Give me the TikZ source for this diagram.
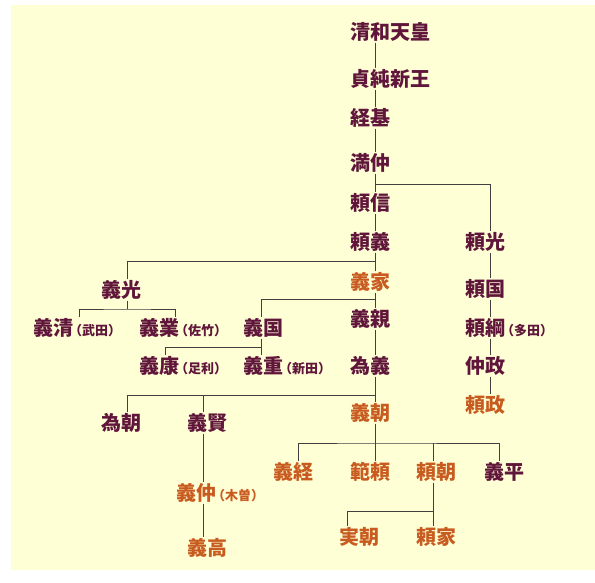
\documentclass[tikz,border=0pt]{standalone}
\usepackage{fontspec}
\newfontfamily\jp{Noto Sans CJK JP}
\definecolor{bg}{RGB}{255,255,214}
\definecolor{plum}{RGB}{96,22,58}
\definecolor{rust}{RGB}{200,92,32}
\definecolor{ln}{RGB}{64,64,64}
\newcommand\smallnote[1]{{\fontsize{13}{13}\selectfont\kern-4pt（#1）}}
\begin{document}
\begin{tikzpicture}[x=1pt,y=-1pt,
  lbl/.style={anchor=west,inner sep=1pt,text=plum,font=\jp\bfseries\fontsize{20}{20}\selectfont},
  org/.style={lbl,text=rust},
  con/.style={draw=ln,line width=1pt}]
\useasboundingbox (0,0) rectangle (595,582);
\fill[white] (0,0) rectangle (595,582);
\fill[bg] (11,5) rectangle (595,570);
% column x positions
\coordinate (xM) at (375,0);
\coordinate (xR) at (490,0);
\coordinate (xA) at (127,0);
\coordinate (xA1) at (79,0);
\coordinate (xA2) at (175,0);
\coordinate (xB) at (261,0);
\coordinate (xB1) at (165,0);
\coordinate (xD) at (203,0);
\coordinate (xE1) at (298,0);
\coordinate (xE3) at (433,0);
\coordinate (xE4) at (499,0);
\coordinate (xF1) at (347,0);
% main line
\node[lbl] (n1) at (349,32) {清和天皇};
\node[lbl] (n2) at (349,79) {貞純新王};
\node[lbl] (n3) at (349,118) {経基};
\node[lbl] (n4) at (349,163) {満仲};
\node[lbl] (n5) at (349,203) {頼信};
\node[lbl] (n6) at (349,242) {頼義};
\node[org] (n7) at (349,282) {義家};
\node[lbl] (n8) at (349,319) {義親};
\node[lbl] (n9) at (349,366) {為義};
\node[org] (n10) at (349,413) {義朝};
% right column
\node[lbl] (r1) at (464,242) {頼光};
\node[lbl] (r2) at (464,289) {頼国};
\node[lbl] (r3) at (464,328) {頼綱\smallnote{多田}};
\node[lbl] (r4) at (464,366) {仲政};
\node[org] (r5) at (464,405) {頼政};
% left branches
\node[lbl] (a) at (100,290) {義光};
\node[lbl] (a1) at (32,328) {義清\smallnote{武田}};
\node[lbl] (a2) at (138,328) {義業\smallnote{佐竹}};
\node[lbl] (b) at (242,328) {義国};
\node[lbl] (b1) at (138,366) {義康\smallnote{足利}};
\node[lbl] (b2) at (242,366) {義重\smallnote{新田}};
\node[lbl] (c) at (100,423) {為朝};
\node[lbl] (d) at (186,423) {義賢};
\node[org] (d1) at (175,493) {義仲\smallnote{木曽}};
\node[org] (d2) at (186,548) {義高};
% children of 義朝
\node[org] (e1) at (272,472) {義経};
\node[org] (e2) at (349,472) {範頼};
\node[org] (e3) at (415,472) {頼朝};
\node[lbl] (e4) at (483,472) {義平};
\node[org] (f1) at (338,537) {実朝};
\node[org] (f2) at (415,537) {頼家};
% connectors
\foreach \p/\q in {n1/n2,n2/n3,n3/n4,n4/n5,n5/n6,n6/n7,n7/n8,n8/n9,n9/n10,n10/e2}
  \draw[con] (\p.south -| xM) -- (\q.north -| xM);
\foreach \p/\q in {r1/r2,r2/r3,r3/r4,r4/r5}
  \draw[con] (\p.south -| xR) -- (\q.north -| xR);
\coordinate (h1) at (375,184);
\draw[con] (h1) -| (r1.north -| xR);
\coordinate (h2) at (375,261);
\draw[con] (h2) -| (a.north -| xA);
\coordinate (h3) at (375,299);
\draw[con] (h3) -| (b.north -| xB);
\coordinate (h4) at (127,309);
\draw[con] (a.south -| xA) -- (h4);
\draw[con] (a1.north -| xA1) |- (h4) -| (a2.north -| xA2);
\draw[con] (b.south -| xB) -- (b2.north -| xB);
\coordinate (h5) at (261,347);
\draw[con] (h5) -| (b1.north -| xB1);
\coordinate (h6) at (375,395);
\draw[con] (h6) -| (c.north -| xA);
\coordinate (h6d) at (203,395);
\draw[con] (h6d) -- (d.north -| xD);
\draw[con] (d.south -| xD) -- (d1.north -| xD);
\draw[con] (d1.south -| xD) -- (d2.north -| xD);
\coordinate (h7) at (375,443);
\draw[con] (e1.north -| xE1) |- (h7) -| (e4.north -| xE4);
\coordinate (h7b) at (433,443);
\draw[con] (h7b) -- (e3.north -| xE3);
\draw[con] (e3.south -| xE3) -- (f2.north -| xE3);
\coordinate (h8) at (433,511);
\draw[con] (h8) -| (f1.north -| xF1);
\end{tikzpicture}
\end{document}
